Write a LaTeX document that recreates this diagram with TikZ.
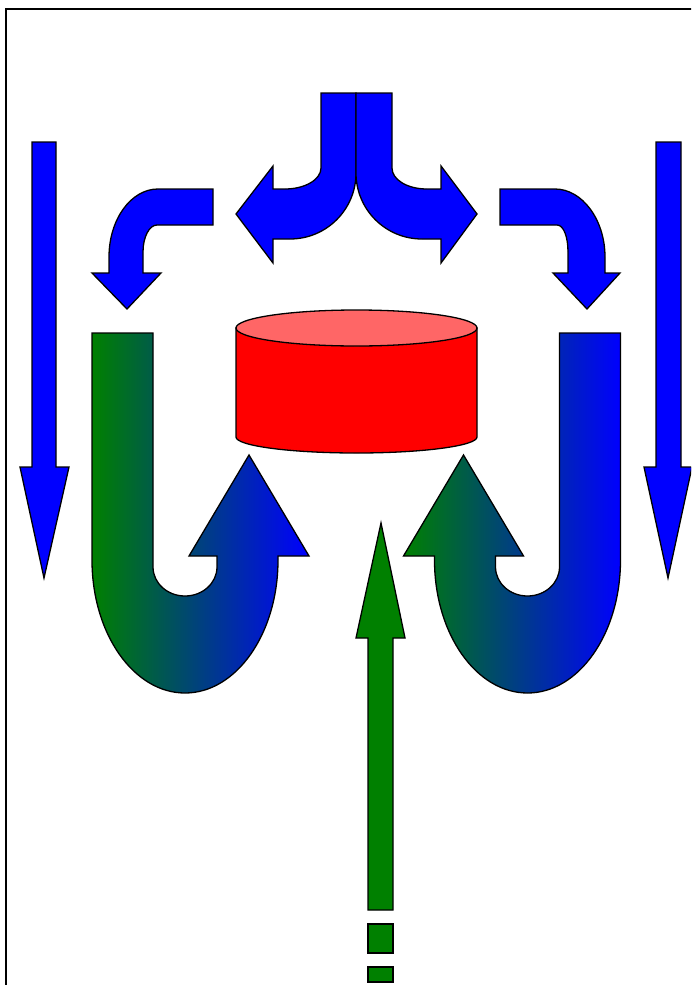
\documentclass[tikz,border=0pt]{standalone}
\begin{document}
\begin{tikzpicture}[x=1pt,y=-1pt,line join=miter,
  outl/.style={draw=black,line width=1.3pt},
  bluearrow/.style={outl,fill=arrblue},
  greenarrow/.style={outl,fill=arrgreen},
  uarrow/.style={outl,left color=arrgreen,right color=arrblue}]
\definecolor{arrblue}{RGB}{0,0,255}
\definecolor{arrgreen}{RGB}{0,128,0}
\definecolor{cylred}{RGB}{255,0,0}
\definecolor{cyltop}{RGB}{255,102,102}
\useasboundingbox (0,0) rectangle (691,985);
\clip (0,0) rectangle (691,985);
% frame
\draw[line width=1.6pt] (6,9) rectangle (740,1040);
% left straight arrow
\draw[bluearrow] (32,142) -- (56,142) -- (56,467) -- (69,467) -- (44,578) -- (20,467) -- (32,467) -- cycle;
% right straight arrow
\draw[bluearrow] (656,142) -- (681,142) -- (681,467) -- (692,467) -- (668,578) -- (644,467) -- (656,467) -- cycle;
% top centre split arrow, left half
\draw[bluearrow] (321,93) -- (356,93) -- (356,173)
  .. controls (356,209.5) and (326.5,239) .. (290,239) -- (273,239) -- (273,263) -- (236,214) -- (273,166) -- (273,189) -- (285,189)
  .. controls (304.9,189) and (321,179.6) .. (321,168) -- cycle;
% top centre split arrow, right half
\draw[bluearrow] (392,93) -- (356,93) -- (356,173)
  .. controls (356,209.5) and (385.5,239) .. (422,239) -- (441,239) -- (441,263) -- (477,214) -- (441,166) -- (441,189) -- (427,189)
  .. controls (407.1,189) and (392,179.6) .. (392,168) -- cycle;
% upper left curved arrow
\draw[bluearrow] (213,189) -- (158,189) .. controls (131,189) and (109,219.4) .. (109,257) -- (109,273) -- (92,273) -- (127,309) -- (161,273) -- (143,273) -- (143,252)
  .. controls (143,237) and (149.3,225) .. (157,225) -- (213,225) -- cycle;
% upper right curved arrow
\draw[bluearrow] (500,189) -- (555,189) .. controls (582,189) and (605,219.4) .. (605,257) -- (605,273) -- (620,273) -- (587,309) -- (553,273) -- (568,273) -- (568,252)
  .. controls (568,237) and (563.7,225) .. (557,225) -- (500,225) -- cycle;
% cylinder
\draw[outl,fill=cylred] (236,328) -- (236,437) .. controls (236,445.8) and (289.95,453) .. (356.5,453)
  .. controls (423.05,453) and (477,445.8) .. (477,437) -- (477,328) -- cycle;
\draw[outl,fill=cyltop] (356.5,328) ellipse [x radius=120.5pt, y radius=18pt];
% left U arrow
\draw[uarrow] (92,333) -- (153,333) -- (153,567) .. controls (153,583) and (167.3,596) .. (185,596)
  .. controls (202.7,596) and (217,583) .. (217,567) -- (217,556) -- (189,556) -- (249,455) -- (309,556) -- (278,556) -- (278,560)
  .. controls (278,633.5) and (236.4,693) .. (185,693) .. controls (133.6,693) and (92,633.5) .. (92,560) -- cycle;
% right U arrow
\draw[uarrow] (620.5,333) -- (559.5,333) -- (559.5,567) .. controls (559.5,583) and (545.2,596) .. (527.5,596)
  .. controls (509.8,596) and (495.5,583) .. (495.5,567) -- (495.5,556) -- (523.5,556) -- (463.5,455) -- (403.5,556) -- (434.5,556) -- (434.5,560)
  .. controls (434.5,633.5) and (476.1,693) .. (527.5,693) .. controls (578.9,693) and (620.5,633.5) .. (620.5,560) -- cycle;
% green up arrow
\draw[greenarrow] (368,910) -- (368,638) -- (356,638) -- (381,523) -- (405,638) -- (393,638) -- (393,910) -- cycle;
\draw[greenarrow] (368,924) rectangle (393,953);
\draw[greenarrow] (368,967) rectangle (393,982);
\end{tikzpicture}
\end{document}
